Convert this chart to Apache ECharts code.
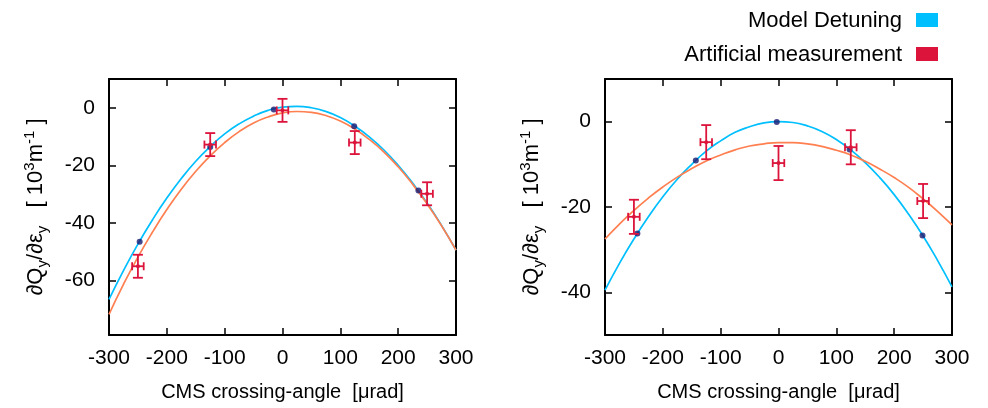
<!DOCTYPE html>
<html>
<head>
<meta charset="utf-8">
<script src="https://cdn.jsdelivr.net/npm/echarts@6/dist/echarts.min.js"></script>
<style>html,body{margin:0;padding:0;background:#fff;}#c{width:988px;height:408px;}</style>
</head>
<body>
<div id="c"></div>
<script>
// ---- data ----
const curveX = [-300,-275,-250,-225,-200,-175,-150,-125,-100,-75,-50,-25,0,25,50,75,100,125,150,175,200,225,250,275,300];
const leftModelCurve = [-66.6,-56.6,-47.4,-39.0,-31.4,-24.6,-18.6,-13.5,-9.1,-5.6,-2.9,-0.9,0.2,0.5,0.0,-1.3,-3.4,-6.4,-10.1,-14.6,-20.0,-26.2,-33.1,-40.9,-49.5];
const leftFitCurve = [-71.8,-61.4,-51.9,-43.3,-35.4,-28.3,-22.1,-16.7,-12.1,-8.3,-5.3,-3.2,-1.8,-1.3,-1.6,-2.7,-4.6,-7.4,-11.0,-15.3,-20.5,-26.6,-33.4,-41.0,-49.5];
const rightModelCurve = [-39.5,-33.2,-27.5,-22.3,-17.6,-13.5,-10.0,-6.9,-4.5,-2.5,-1.2,-0.3,0.0,-0.2,-1.0,-2.3,-4.2,-6.6,-9.6,-13.1,-17.1,-21.7,-26.8,-32.5,-38.7];
const rightFitCurve = [-27.5,-24.0,-20.8,-17.9,-15.3,-13.0,-11.0,-9.2,-7.8,-6.6,-5.7,-5.2,-4.9,-4.9,-5.2,-5.8,-6.7,-7.8,-9.3,-11.1,-13.1,-15.4,-18.1,-21.0,-24.2];

const leftModelPtsX = [-247,-125,-15,124,235];
const leftModelPtsY = [-46.6,-13.6,-0.6,-6.4,-28.8];
const rightModelPtsX = [-244,-143,-3,123,249];
const rightModelPtsY = [-26.2,-9.1,-0.1,-6.5,-26.7];

const measX = [-250,-125,0,125,250];
const leftMeasY = [-55.1,-12.8,-0.9,-12.1,-29.9];
const rightMeasY = [-22.3,-4.8,-9.7,-6.0,-18.6];
const measXErr = [10,10,10,10,10];
const leftMeasYErr = [4,4,4,4,4];
const rightMeasYErr = [4,4,4,4,4];

const xTicks = [-300,-200,-100,0,100,200,300];
const leftYTicks = [-60,-40,-20,0];
const rightYTicks = [-40,-20,0];

// ---- styles ----
const FONT = "'Liberation Sans', Arial, sans-serif";
const CYAN = '#00BFFF', ORANGE = '#FF7F50', NAVY = '#191970', RED = '#DC143C';

function pairs(xs, ys){ return xs.map((x,i)=>[x, ys[i]]); }
function errRows(xs, ys, xe, ye){ return xs.map((x,i)=>[x, ys[i], xe[i], ye[i]]); }

function errorBarRender(params, api){
  const x = api.value(0), y = api.value(1), xe = api.value(2), ye = api.value(3);
  const c = api.coord([x, y]);
  const top = api.coord([x, y + ye]);
  const bot = api.coord([x, y - ye]);
  const lft = api.coord([x - xe, y]);
  const rgt = api.coord([x + xe, y]);
  const st = {stroke: RED, lineWidth: 1.8};
  const cw = 5, ch = 4;
  const line = (x1,y1,x2,y2)=>({type:'line', shape:{x1,y1,x2,y2}, style: st});
  return {type:'group', children:[
    line(top[0], top[1], bot[0], bot[1]),
    line(top[0]-cw, top[1], top[0]+cw, top[1]),
    line(bot[0]-cw, bot[1], bot[0]+cw, bot[1]),
    line(lft[0], lft[1], rgt[0], rgt[1]),
    line(lft[0], lft[1]-ch, lft[0], lft[1]+ch),
    line(rgt[0], rgt[1]-ch, rgt[0], rgt[1]+ch),
    {type:'circle', shape:{cx:c[0], cy:c[1], r:2}, style:{fill:RED}}
  ]};
}

const yName = '∂Q{sub|y}/∂ε{sub|y}   [ 10{sup|3}m{sup|-1} ]';
const nameRich = {
  sub: {fontSize: 15, verticalAlign: 'bottom', fontFamily: FONT, color: '#000', lineHeight: 15},
  sup: {fontSize: 15, verticalAlign: 'top', fontFamily: FONT, color: '#000', lineHeight: 15}
};

function xAxes(gridIndex){
  return [{
    type:'value', gridIndex, min:-300, max:300, interval:100, position:'bottom',
    axisLine:{show:true, onZero:false, lineStyle:{color:'#000', width:2}},
    axisTick:{show:true, inside:true, length:7, lineStyle:{color:'#000', width:1.5}},
    axisLabel:{show:true, margin:13, color:'#000', fontSize:21, fontFamily:FONT,
      customValues: xTicks},
    splitLine:{show:false},
    name:'CMS crossing-angle  [μrad]', nameLocation:'middle', nameGap:47,
    nameTextStyle:{color:'#000', fontSize:20, fontFamily:FONT}
  },{
    type:'value', gridIndex, min:-300, max:300, interval:100, position:'top',
    axisLine:{show:true, onZero:false, lineStyle:{color:'#000', width:2}},
    axisTick:{show:true, inside:true, length:7, lineStyle:{color:'#000', width:1.5}},
    axisLabel:{show:false}, splitLine:{show:false}
  }];
}
function yAxes(gridIndex, min, max, ticks){
  return [{
    type:'value', gridIndex, min, max, position:'left',
    axisLine:{show:true, onZero:false, lineStyle:{color:'#000', width:2}},
    axisTick:{show:true, inside:true, length:7, lineStyle:{color:'#000', width:1.5}, customValues: ticks},
    axisLabel:{show:true, margin:14, color:'#000', fontSize:21, fontFamily:FONT, customValues: ticks},
    splitLine:{show:false},
    name: yName, nameLocation:'middle', nameGap:59, nameRotate:90,
    nameTextStyle:{color:'#000', fontSize:22, fontFamily:FONT, lineHeight:28, rich: nameRich}
  },{
    type:'value', gridIndex, min, max, position:'right',
    axisLine:{show:true, onZero:false, lineStyle:{color:'#000', width:2}},
    axisTick:{show:true, inside:true, length:7, lineStyle:{color:'#000', width:1.5}, customValues: ticks},
    axisLabel:{show:false}, splitLine:{show:false}
  }];
}

function panelSeries(xAxisIndex, yAxisIndex, modelCurve, fitCurve, ptsX, ptsY, mY, mYErr){
  return [
    {type:'line', name:'Model Detuning', xAxisIndex, yAxisIndex, data: pairs(curveX, modelCurve),
      smooth:true, showSymbol:false, lineStyle:{color:CYAN, width:1.7}, itemStyle:{color:CYAN}, z:2, silent:true},
    {type:'line', name:'Fit', xAxisIndex, yAxisIndex, data: pairs(curveX, fitCurve),
      smooth:true, showSymbol:false, lineStyle:{color:ORANGE, width:1.7}, itemStyle:{color:ORANGE}, z:2, silent:true},
    {type:'scatter', name:'Model points', xAxisIndex, yAxisIndex, data: pairs(ptsX, ptsY),
      symbolSize:6, itemStyle:{color:NAVY}, z:3, silent:true},
    {type:'custom', name:'Artificial measurement', xAxisIndex, yAxisIndex,
      data: errRows(measX, mY, measXErr, mYErr), encode:{x:0, y:1},
      renderItem: errorBarRender, itemStyle:{color:RED}, z:4, silent:true}
  ];
}

const chart = echarts.init(document.getElementById('c'), null, {renderer:'canvas'});
chart.setOption({
  animation:false,
  backgroundColor:'#fff',
  grid:[
    {left:109, top:79, width:347, height:256},
    {left:605, top:79, width:347, height:256}
  ],
  xAxis:[...xAxes(0), ...xAxes(1)],
  yAxis:[...yAxes(0, -79, 10, leftYTicks), ...yAxes(1, -50, 10, rightYTicks)],
  series:[
    ...panelSeries(0, 0, leftModelCurve, leftFitCurve, leftModelPtsX, leftModelPtsY, leftMeasY, leftMeasYErr),
    ...panelSeries(2, 2, rightModelCurve, rightFitCurve, rightModelPtsX, rightModelPtsY, rightMeasY, rightMeasYErr)
  ],
  graphic:[
    {type:'text', right:86, top:10, style:{text:'Model Detuning', fill:'#000', font:'22px ' + FONT, textAlign:'right'}},
    {type:'rect', left:916, top:13, shape:{width:22, height:14}, style:{fill:CYAN}},
    {type:'text', right:86, top:44, style:{text:'Artificial measurement', fill:'#000', font:'22px ' + FONT, textAlign:'right'}},
    {type:'rect', left:916, top:47, shape:{width:22, height:14}, style:{fill:RED}}
  ]
});
</script>
</body>
</html>
